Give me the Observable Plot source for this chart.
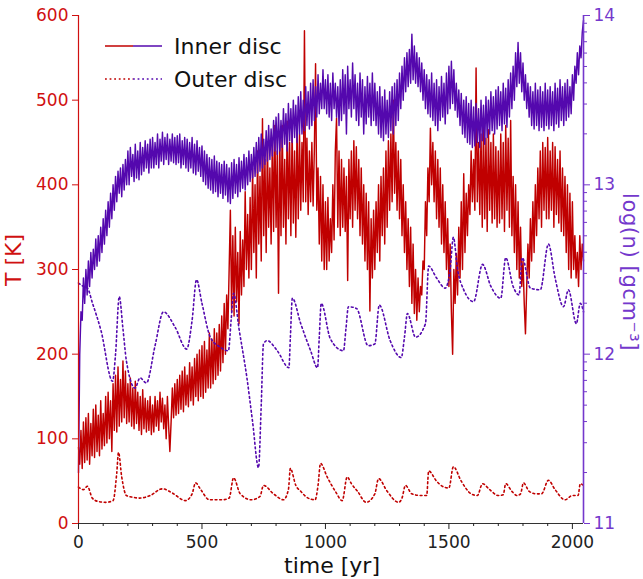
<!DOCTYPE html>
<html><head><meta charset="utf-8">
<script src="https://cdn.jsdelivr.net/npm/d3@7"></script>
<script src="https://cdn.jsdelivr.net/npm/@observablehq/plot@0.6"></script>
<style>
body{margin:0;background:#fff;font-family:"DejaVu Sans",sans-serif}
#wrap{position:relative;width:643px;height:579px}
</style></head><body><div id="wrap"></div>
<script>
// ---- data ----
const step = 5; // years between samples of the inner-disc series
const innerT = [
90,70,110,65,120,72,125,75,130,70,118,80,135,78,140,85,128,80,145,88,
130,92,150,95,155,100,145,85,165,110,175,108,185,115,170,120,192,125,180,118,
165,120,172,115,160,112,168,118,155,110,150,105,158,112,148,108,145,110,150,105,
140,108,150,115,145,110,155,120,148,112,140,100,150,115,85,120,160,125,165,128,
170,130,175,135,180,132,185,140,175,138,190,145,185,140,195,150,200,145,205,150,
210,148,215,155,205,160,225,160,218,165,230,170,225,175,235,180,245,190,260,200,
270,230,300,370,250,340,245,350,262,320,236,345,270,335,280,392,300,365,290,385,
300,420,320,400,290,440,330,410,310,478,340,430,320,450,350,420,330,455,345,470,
350,440,272,460,340,470,350,430,330,475,360,450,340,465,355,440,338,470,360,460,
370,450,380,582,380,455,365,440,380,450,375,440,543,370,420,330,410,310,400,300,
380,300,385,310,360,320,400,335,440,479,350,440,340,430,350,420,345,410,287,430,
360,440,350,452,370,445,360,430,340,420,330,400,310,390,300,380,251,360,290,370,
300,380,320,400,310,410,340,420,330,440,350,452,370,460,380,500,390,450,370,440,
360,430,340,400,320,380,300,360,280,350,260,330,248,300,240,290,250,280,270,310,
300,380,340,420,380,467,400,450,380,440,360,430,350,420,330,400,320,380,300,360,
280,330,250,200,300,260,319,270,350,290,380,300,413,320,390,340,400,365,440,380,
430,370,538,380,450,365,460,350,470,360,455,345,465,370,450,355,460,360,445,350,
440,355,460,360,450,345,470,370,455,350,476,340,410,320,400,300,380,290,350,280,
310,260,224,280,330,290,360,310,380,320,400,340,420,360,440,350,450,370,444,360,
456,360,440,370,450,350,445,365,430,355,440,345,420,340,410,320,400,300,390,290,
380,300,340,290,320,280,340,300,330,310];
const innerLogN = [
11.3,12.0,12.25,12.2,12.45,12.3,12.5,12.35,12.55,12.4,12.6,12.45,12.62,12.5,12.68,12.52,12.7,12.55,12.75,12.6,
12.8,12.65,12.85,12.7,12.9,12.75,12.95,12.8,13.0,12.85,13.05,12.9,13.08,12.95,13.1,12.93,13.12,12.97,13.15,13.0,
13.2,13.0,13.22,13.05,13.18,13.02,13.24,13.04,13.2,13.03,13.25,13.06,13.22,13.08,13.26,13.1,13.24,13.07,13.27,13.1,
13.28,13.1,13.25,13.12,13.3,13.1,13.27,13.14,13.31,13.12,13.28,13.15,13.3,13.12,13.27,13.14,13.3,13.13,13.28,13.12,
13.29,13.13,13.3,13.1,13.26,13.12,13.28,13.1,13.27,13.08,13.25,13.1,13.28,13.07,13.24,13.06,13.26,13.08,13.22,13.05,
13.23,13.02,13.2,13.0,13.18,12.98,13.16,12.97,13.15,12.95,13.17,12.96,13.14,12.93,13.13,12.95,13.12,12.92,13.14,12.94,
13.12,12.9,13.1,12.89,13.13,12.92,13.15,12.95,13.12,12.93,13.16,12.96,13.14,12.98,13.18,12.97,13.16,13.0,13.2,13.02,
13.18,13.04,13.22,13.05,13.25,13.07,13.28,13.08,13.3,13.1,13.27,13.12,13.32,13.14,13.35,13.15,13.33,13.17,13.38,13.2,
13.4,13.18,13.42,13.2,13.38,13.22,13.45,13.24,13.42,13.2,13.48,13.26,13.45,13.25,13.5,13.28,13.47,13.25,13.52,13.3,
13.55,13.3,13.5,13.32,13.58,13.35,13.55,13.33,13.6,13.35,13.62,13.38,13.58,13.4,13.65,13.42,13.6,13.45,13.68,13.45,
13.62,13.42,13.65,13.4,13.6,13.38,13.66,13.45,13.6,13.4,13.58,13.35,13.62,13.38,13.68,13.42,13.65,13.3,13.7,13.45,
13.62,13.4,13.72,13.45,13.65,13.38,13.6,13.35,13.66,13.4,13.62,13.3,13.58,13.36,13.64,13.4,13.6,13.35,13.66,13.38,
13.6,13.35,13.55,13.3,13.58,13.28,13.52,13.26,13.56,13.3,13.5,13.28,13.55,13.32,13.58,13.3,13.6,13.35,13.62,13.38,
13.66,13.45,13.7,13.5,13.75,13.55,13.78,13.58,13.8,13.6,13.89,13.62,13.82,13.6,13.78,13.58,13.75,13.55,13.72,13.5,
13.68,13.45,13.65,13.42,13.62,13.4,13.66,13.38,13.6,13.35,13.62,13.32,13.58,13.38,13.64,13.4,13.6,13.36,13.66,13.42,
13.7,13.45,13.73,13.48,13.68,13.44,13.6,13.4,13.56,13.35,13.54,13.3,13.5,13.28,13.52,13.25,13.48,13.24,13.5,13.22,
13.46,13.23,13.48,13.25,13.45,13.22,13.5,13.26,13.47,13.24,13.52,13.28,13.5,13.3,13.55,13.32,13.52,13.3,13.56,13.33,
13.58,13.35,13.55,13.32,13.6,13.36,13.57,13.34,13.62,13.4,13.66,13.45,13.7,13.5,13.78,13.58,13.84,13.6,13.78,13.55,
13.72,13.5,13.65,13.45,13.6,13.4,13.58,13.35,13.55,13.33,13.6,13.35,13.56,13.32,13.58,13.34,13.55,13.32,13.6,13.35,
13.56,13.33,13.58,13.35,13.55,13.32,13.6,13.36,13.57,13.34,13.62,13.38,13.58,13.35,13.6,13.38,13.62,13.4,13.58,13.42,
13.65,13.5,13.7,13.6,13.78,13.65,13.82,13.75,13.9,13.97];

const outerTTime = [0,20,36,56,80,110,140,155,162,175,194,220,248,290,340,380,433,460,474,495,530,580,610,628,655,700,735,749,790,830,850,858,880,900,930,958,970,980,1007,1040,1068,1088,1105,1130,1165,1200,1215,1250,1296,1310,1324,1350,1390,1410,1418,1450,1480,1500,1518,1550,1590,1615,1636,1665,1700,1720,1730,1755,1776,1790,1802,1825,1855,1875,1903,1930,1970,2000,2023,2032,2045];
const outerT = [43,40,44,30,26,25,27,60,84,55,33,31,30,33,41,36,27,35,48,40,28,28,30,54,35,28,32,45,35,28,40,65,45,38,30,28,45,71,55,38,27,55,47,38,25,35,53,38,25,30,45,35,33,33,62,50,43,42,67,50,35,33,47,40,33,34,47,38,33,35,48,38,35,35,51,40,28,33,33,47,45];

const outerNTime = [0,20,36,57,91,138,150,165,180,194,229,249,275,310,344,391,438,460,478,500,534,575,607,618,628,650,682,705,729,740,749,764,805,852,858,866,900,940,968,975,983,1020,1073,1083,1093,1126,1173,1200,1218,1262,1307,1320,1332,1365,1405,1418,1450,1485,1505,1518,1535,1560,1600,1636,1670,1710,1730,1760,1784,1797,1830,1870,1903,1930,1964,1984,2016,2032,2045];
const outerLogN = [12.42,12.4,12.39,12.3,12.14,11.84,12.0,12.34,12.15,11.96,11.8,11.86,11.83,12.05,12.25,12.16,12.03,12.2,12.44,12.3,12.1,12.04,12.02,12.2,12.36,12.15,11.86,11.6,11.33,11.7,12.06,12.08,12.02,11.92,12.1,12.33,12.18,12.02,11.92,12.1,12.3,12.09,12.02,12.15,12.28,12.27,12.05,12.06,12.29,12.08,11.98,12.1,12.24,12.1,12.18,12.52,12.45,12.39,12.5,12.69,12.5,12.38,12.31,12.53,12.4,12.33,12.57,12.4,12.35,12.57,12.39,12.38,12.65,12.45,12.28,12.38,12.18,12.3,12.25];

const xTicks = [0, 500, 1000, 1500, 2000];
const xMinorTicks = [100,200,300,400,600,700,800,900,1100,1200,1300,1400,1600,1700,1800,1900];
const tTicks = [0, 100, 200, 300, 400, 500, 600];
const nTicks = [11, 12, 13, 14];
const nMinorMultipliers = [2,3,4,5,6,7,8,9];
const legendLabels = ["Inner disc", "Outer disc"];

// ---- styling ----
const RED = "#c00000", RED_AX = "#d01010", PURPLE = "#5408ae", PURPLE_AX = "#7438cc";
const DOT = "1.8,2.8";
const nMin = 11, nMax = 14, tMax = 600;
const toT = v => (v - nMin) * tMax / (nMax - nMin);   // map log(n) onto the T scale

const inner = innerT.map((v, i) => ({t: i * step, T: v, N: toT(innerLogN[i])}));
const outerTData = outerTTime.map((t, i) => ({t, v: outerT[i]}));
const outerNData = outerNTime.map((t, i) => ({t, v: toT(outerLogN[i])}));
const nMinor = [];
for (const d of nTicks.slice(0, -1)) for (const k of nMinorMultipliers) nMinor.push(toT(d + Math.log10(k)));

const chart = Plot.plot({
  width: 643, height: 579,
  marginLeft: 78, marginRight: 60, marginTop: 15, marginBottom: 56,
  style: {fontFamily: "DejaVu Sans, sans-serif", fontSize: "17px", background: "#fff"},
  x: {domain: [0, 2045]},
  y: {domain: [0, tMax]},
  marks: [
    Plot.line(outerTData, {x: "t", y: "v", stroke: RED, strokeWidth: 1.6, strokeDasharray: DOT, curve: "monotone-x"}),
    Plot.line(inner, {x: "t", y: "T", stroke: RED, strokeWidth: 1.45}),
    Plot.line(outerNData, {x: "t", y: "v", stroke: PURPLE, strokeWidth: 1.6, strokeDasharray: DOT, curve: "monotone-x"}),
    Plot.line(inner, {x: "t", y: "N", stroke: PURPLE, strokeWidth: 1.45}),
    Plot.ruleY([0], {stroke: "#333", strokeWidth: 1.2}),
    Plot.ruleX([0], {stroke: RED_AX, strokeWidth: 1.2}),
    Plot.ruleX([2045], {stroke: PURPLE_AX, strokeWidth: 1.6}),
    Plot.axisX({ticks: xTicks, tickSize: 6, tickPadding: 6, fontSize: 17, label: null, color: "#222", tickFormat: d => String(d)}),
    Plot.axisX({ticks: xMinorTicks, tickSize: 3, tickFormat: () => "", label: null, color: "#222"}),
    Plot.axisY({ticks: tTicks, anchor: "left", tickSize: 6, tickPadding: 4, fontSize: 17, label: null, color: RED_AX}),
    Plot.axisY({ticks: nTicks.map(toT), anchor: "right", tickSize: 6, tickPadding: 4, fontSize: 17, label: null, color: PURPLE_AX,
      tickFormat: d => String(Math.round(d * (nMax - nMin) / tMax + nMin))}),
    Plot.axisY({ticks: nMinor, anchor: "right", tickSize: 3, tickFormat: () => "", label: null, color: PURPLE_AX})
  ]
});
document.getElementById("wrap").appendChild(chart);

// axis titles
const svg = d3.select(chart);
svg.append("text").attr("transform", "translate(21,260) rotate(-90)").attr("text-anchor", "middle")
  .attr("font-size", 22).attr("fill", RED_AX).text("T [K]");
svg.append("text").attr("transform", "translate(623,272) rotate(90)").attr("text-anchor", "middle")
  .attr("font-size", 21).attr("letter-spacing", "0.6px").attr("fill", PURPLE_AX).text("log(n) [gcm⁻³]");
svg.append("text").attr("x", 332).attr("y", 573).attr("text-anchor", "middle")
  .attr("font-size", 22).attr("fill", "#111").text("time [yr]");

// legend
const lg = svg.append("g");
const rowsY = [46, 79];
legendLabels.forEach((lab, i) => {
  const dash = i === 0 ? null : DOT;
  lg.append("line").attr("x1", 105).attr("x2", 133).attr("y1", rowsY[i]).attr("y2", rowsY[i])
    .attr("stroke", RED).attr("stroke-width", 1.5).attr("stroke-dasharray", dash);
  lg.append("line").attr("x1", 133).attr("x2", 162).attr("y1", rowsY[i]).attr("y2", rowsY[i])
    .attr("stroke", PURPLE).attr("stroke-width", 1.5).attr("stroke-dasharray", dash);
  lg.append("text").attr("x", 174).attr("y", rowsY[i] + 8).attr("text-anchor", "start")
    .attr("font-size", 22).attr("fill", "#111").text(lab);
});
</script></body></html>
